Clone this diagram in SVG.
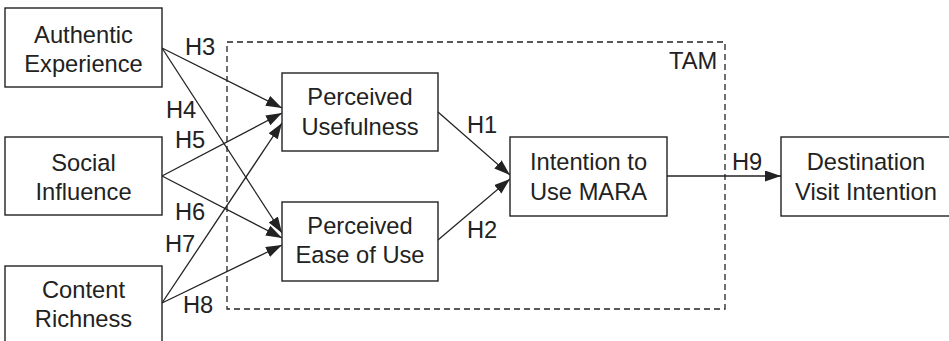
<svg xmlns="http://www.w3.org/2000/svg" width="949" height="341" viewBox="0 0 949 341">
  <style>
    .box { fill: #fff; stroke: #222; stroke-width: 1.4; }
    .lbl { font-family: "Liberation Sans", Arial, sans-serif; font-size: 23.7px; fill: #222; }
    .ctr { text-anchor: middle; }
    .edge { stroke: #222; stroke-width: 1.3; fill: none; marker-end: url(#arrow); }
    .frame { fill: none; stroke: #222; stroke-width: 1.3; stroke-dasharray: 6 4; }
  </style>
  <defs>
    <marker id="arrow" markerUnits="userSpaceOnUse" markerWidth="17" markerHeight="12" refX="16" refY="5.5" orient="auto">
      <path d="M0,0 L16,5.5 L0,11 Z" fill="#222"/>
    </marker>
  </defs>
  <rect width="949" height="341" fill="#fff"/>

  <!-- TAM boundary -->
  <g id="tam">
    <rect class="frame" x="227" y="42" width="498" height="267"/>
    <text class="lbl" x="669" y="69">TAM</text>
  </g>

  <!-- connectors -->
  <g id="connectors">
    <line class="edge" x1="162" y1="48" x2="282" y2="108"/>
    <line class="edge" x1="162" y1="48" x2="282" y2="233"/>
    <line class="edge" x1="162" y1="176" x2="282" y2="113"/>
    <line class="edge" x1="162" y1="176" x2="282" y2="238"/>
    <line class="edge" x1="162" y1="303" x2="282" y2="123"/>
    <line class="edge" x1="162" y1="303" x2="282" y2="245"/>
    <line class="edge" x1="438" y1="112" x2="510" y2="175"/>
    <line class="edge" x1="438" y1="240" x2="510" y2="179"/>
    <line class="edge" x1="667" y1="176" x2="781" y2="176"/>
    <text class="lbl" x="185" y="55">H3</text>
    <text class="lbl" x="166" y="118">H4</text>
    <text class="lbl" x="175" y="148">H5</text>
    <text class="lbl" x="175" y="220">H6</text>
    <text class="lbl" x="165" y="252">H7</text>
    <text class="lbl" x="183" y="313">H8</text>
    <text class="lbl" x="467" y="133">H1</text>
    <text class="lbl" x="467" y="238">H2</text>
    <text class="lbl" x="732" y="170">H9</text>
  </g>

  <g id="authentic-experience">
    <rect class="box" x="5" y="8" width="157" height="79"/>
    <text class="lbl ctr" x="83.5" y="43">Authentic</text>
    <text class="lbl ctr" x="83.5" y="72">Experience</text>
  </g>
  <g id="social-influence">
    <rect class="box" x="5" y="137" width="157" height="78"/>
    <text class="lbl ctr" x="83.5" y="171">Social</text>
    <text class="lbl ctr" x="83.5" y="200">Influence</text>
  </g>
  <g id="content-richness">
    <rect class="box" x="5" y="266" width="157" height="90"/>
    <text class="lbl ctr" x="83.5" y="298">Content</text>
    <text class="lbl ctr" x="83.5" y="327">Richness</text>
  </g>
  <g id="perceived-usefulness">
    <rect class="box" x="282" y="73" width="156" height="78"/>
    <text class="lbl ctr" x="360" y="105">Perceived</text>
    <text class="lbl ctr" x="360" y="135">Usefulness</text>
  </g>
  <g id="perceived-ease-of-use">
    <rect class="box" x="282" y="202" width="156" height="79"/>
    <text class="lbl ctr" x="360" y="234">Perceived</text>
    <text class="lbl ctr" x="360" y="263">Ease of Use</text>
  </g>
  <g id="intention-to-use">
    <rect class="box" x="510" y="137" width="157" height="79"/>
    <text class="lbl ctr" x="588.5" y="170">Intention to</text>
    <text class="lbl ctr" x="588.5" y="200">Use MARA</text>
  </g>
  <g id="destination-visit-intention">
    <rect class="box" x="781" y="137" width="175" height="79"/>
    <text class="lbl ctr" x="866" y="170">Destination</text>
    <text class="lbl ctr" x="866" y="200">Visit Intention</text>
  </g>
</svg>
